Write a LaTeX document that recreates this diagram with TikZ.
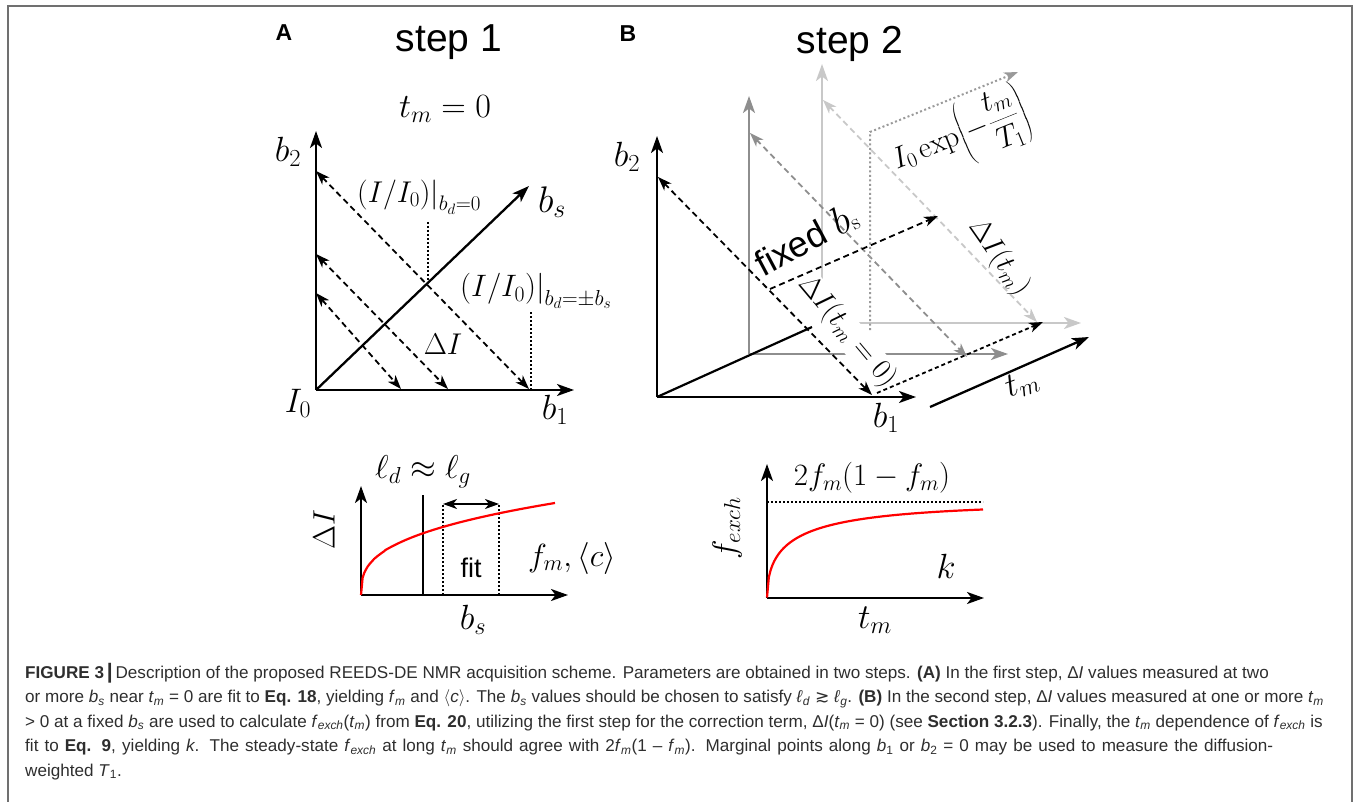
\RequirePackage{fix-cm}
\documentclass[tikz,border=0pt]{standalone}
\usepackage{fontspec}
\newfontfamily\hv{Liberation Sans}
\newfontfamily\dvs{DejaVu Sans}
\newfontfamily\capfont{Liberation Sans}
\usetikzlibrary{arrows.meta}
\definecolor{gmid}{HTML}{8E8E8E}
\definecolor{glight}{HTML}{C8C8C8}
\definecolor{gdot}{HTML}{9A9A9A}
\definecolor{frame}{HTML}{707070}
\definecolor{captext}{HTML}{2E2E2E}
\newcommand\fs[1]{\fontsize{#1}{#1}\selectfont}
\newcommand\csub[2]{\textit{#1}\textsubscript{\textit{#2}}}
\tikzset{
  tipA/.tip={Stealth[length=17pt,width=12pt,inset=4.5pt]},
  tipB/.tip={Stealth[length=14pt,width=10pt,inset=4pt]},
  axisline/.style={line width=2.3pt,-tipA},
  dbl/.style={line width=1.8pt,dash pattern=on 6pt off 4pt,tipB-tipB},
  sgl/.style={line width=1.8pt,dash pattern=on 6pt off 4pt,-tipB},
  dotv/.style={line width=2pt,dash pattern=on 2pt off 2pt},
  lab/.style={inner sep=0pt,font=\fs{30}},
  redc/.style={red,line width=2.2pt},
  capline/.style={anchor=base west,inner sep=0pt,text=captext,font=\capfont\fontsize{17.1}{24}\selectfont},
}
\begin{document}
\begin{tikzpicture}[x=1pt,y=-1pt]
\useasboundingbox (0,0) rectangle (1354,802);
% frame
\draw[frame,line width=1.5pt] (8,802) -- (8,6) -- (1352,6) -- (1352,802);

% ---------- Panel A ----------
\node[font=\hv\bfseries\fs{23},inner sep=0pt] (lblA) at (284,33) {A};
\node[font=\hv\fs{39},inner sep=0pt] (step1) at (449,42) {step 1};
\node[lab,font=\fs{34}] (tm0) at (445,109) {$t_m = 0$};

\coordinate (OA) at (316,390);
\coordinate (A2) at (316,131);
\coordinate (A1) at (574,390);
\coordinate (As) at (529,186);
\draw[axisline] (OA) -- (A2);
\draw[axisline] (OA) -- (A1);
\draw[axisline] (OA) -- (As);

\coordinate (d1a) at (316,171); \coordinate (d1b) at (529,389);
\coordinate (d2a) at (316,254); \coordinate (d2b) at (448,389);
\coordinate (d3a) at (316,293); \coordinate (d3b) at (401,389);
\draw[dbl] (d1a) -- (d1b);
\draw[dbl] (d2a) -- (d2b);
\draw[dbl] (d3a) -- (d3b);

\coordinate (v1a) at (428,222); \coordinate (v1b) at (428,282);
\coordinate (v2a) at (531,312); \coordinate (v2b) at (531,390);
\draw[dotv] (v1a) -- (v1b);
\draw[dotv] (v2a) -- (v2b);

\node[lab,font=\fs{35}] (b2A) at (288,152) {$b_2$};
\node[lab,font=\fs{34}] (I0A) at (298,403) {$I_0$};
\node[lab,font=\fs{35}] (b1A) at (555,410) {$b_1$};
\node[lab,font=\fs{37}] (bsA) at (552,202) {$b_s$};
\node[lab,anchor=west] (II0a) at (357,197) {$(I/I_0)\Big|_{b_d=0}$};
\node[lab,anchor=west,font=\fs{31}] (II0b) at (460,291) {$(I/I_0)\Big|_{b_d=\pm b_s}$};
\node[lab] (dIA) at (443,344) {$\Delta I$};

% ---------- Panel B ----------
\node[font=\hv\bfseries\fs{23},inner sep=0pt] (lblB) at (628,34) {B};
\node[font=\hv\fs{39},inner sep=0pt] (step2) at (850,44) {step 2};

\coordinate (O0) at (657,397);
\coordinate (B02) at (657,136);
\coordinate (B01) at (916,397);
\coordinate (O1) at (749,354);
\coordinate (B12) at (749,96);
\coordinate (B11) at (1008,354);
\coordinate (O2) at (822,323);
\coordinate (B22) at (822,64);
\coordinate (B21) at (1081,323);
\coordinate (Oend) at (812,327);

% light gray system
\draw[glight,axisline] (O2) -- (B22);
\draw[glight,axisline] (O2) -- (B21);
\draw[glight,dbl] (823,100) -- (1037,322);
% mid gray system
\draw[gmid,axisline] (O1) -- (B12);
\draw[gmid,axisline] (O1) -- (B11);
\draw[gmid,dbl] (750,133) -- (967,357);
% dotted T1 line
\coordinate (T1a) at (870,330);
\coordinate (T1b) at (870,132);
\coordinate (T1c) at (1018,72);
\draw[gdot,line width=2pt,dash pattern=on 2pt off 2.5pt,-tipB] (T1a) -- (T1b) -- (T1c);

\node[lab,font=\fs{29},fill=white,inner sep=1pt,rotate=-50] (dI0) at (847,332) {$\Delta I(t_m = 0)$};

% black system
\draw[line width=2.2pt] (O0) -- (Oend);
\draw[axisline] (O0) -- (B02);
\draw[axisline] (O0) -- (B01);
\draw[dbl] (658,177) -- (872,395);
\coordinate (fA) at (770,289); \coordinate (fB) at (938,216);
\draw[sgl] (fA) -- (fB);
\coordinate (gA) at (877,393); \coordinate (gB) at (1043,322);
\draw[sgl,dash pattern=on 4pt off 3pt] (gA) -- (gB);
\coordinate (tA) at (930,407); \coordinate (tB) at (1089,337);
\draw[axisline] (tA) -- (tB);

\node[lab,font=\fs{35}] (b2B) at (627,157) {$b_2$};
\node[lab,font=\fs{35}] (b1B) at (886,418) {$b_1$};
\node[lab,font=\fs{34},rotate=20] (tmB) at (1022,384) {$t_m$};
\node[inner sep=0pt,rotate=28] (fixed) at (806,240) {\hv\fs{36}fixed \fs{40}$b$\raisebox{-2pt}{\fs{22}$\mathrm{s}$}};
\node[lab,rotate=22,font=\fs{30}] (expl) at (960,136) {$I_0\exp\!\left(-{\displaystyle\frac{t_m}{T_1}}\right)$};
\node[lab,font=\fs{29},rotate=-55] (dItm) at (999,258) {$\Delta I(t_m)$};

% ---------- bottom left plot ----------
\coordinate (P0) at (361,595);
\coordinate (Py) at (361,486);
\coordinate (Px) at (568,595);
\draw[axisline] (P0) -- (Py);
\draw[axisline] (P0) -- (Px);
\coordinate (sl1) at (423,595); \coordinate (sl2) at (423,495);
\draw[line width=2pt] (sl1) -- (sl2);
\draw[dotv] (443,595) -- (443,504);
\draw[dotv] (499,595) -- (499,504);
\coordinate (fitL) at (443,504); \coordinate (fitR) at (499,504);
\draw[line width=1.8pt,tipB-tipB] (fitL) -- (fitR);
\draw[redc] plot[domain=0.001:194,samples=120] ({361+\x},{595-92*(\x/194)^0.35});
\node[lab,rotate=90,font=\fs{31}] (dIy) at (324,530) {$\Delta I$};
\node[lab,font=\fs{33}] (ell) at (423,472) {$\ell_d\approx\ell_g$};
\node[inner sep=0pt,font=\hv\fs{27}] (fit) at (471,568) {fit};
\node[lab,font=\fs{32}] (fmc) at (572,558) {$f_m,\langle c\rangle$};
\node[lab,font=\fs{35}] (bsx) at (473,620) {$b_s$};

% ---------- bottom right plot ----------
\coordinate (Q0) at (767,598);
\coordinate (Qy) at (767,464);
\coordinate (Qx) at (984,598);
\draw[axisline] (Q0) -- (Qy);
\draw[axisline] (Q0) -- (Qx);
\coordinate (h1) at (767,502); \coordinate (h2) at (983,502);
\draw[dotv] (h1) -- (h2);
\draw[redc] plot[domain=0.001:216,samples=120] ({767+\x},{598-95*(1-exp(-sqrt(\x/30)))});
\node[lab,rotate=90,font=\fs{33}] (fex) at (727,528) {$f_{exch}$};
\node[lab,font=\fs{31}] (fm2) at (872,478) {$2f_m(1-f_m)$};
\node[lab,font=\fs{35}] (kk) at (946,566) {$k$};
\node[lab,font=\fs{35}] (tmx) at (875,620) {$t_m$};

% ---------- caption ----------
\node[capline] (c1) at (25,678) {\textbf{FIGURE 3}\,{\fontsize{21}{21}\selectfont\textbf{|}}\,Description of the proposed REEDS-DE NMR acquisition scheme. Parameters are obtained in two steps. \textbf{(A)} In the first step, Δ\textit{I} values measured at two};
\node[capline] (c2) at (25,702.5) {or more \csub{b}{s} near \csub{t}{m} = 0 are fit to \textbf{Eq. 18}, yielding \csub{f}{m} and $\langle$\textit{c}$\rangle$. The \csub{b}{s} values should be chosen to satisfy \csub{ℓ}{d} {\dvs ≳} \csub{ℓ}{g}. \textbf{(B)} In the second step, Δ\textit{I} values measured at one or more \csub{t}{m}};
\node[capline] (c3) at (25,727) {> 0 at a fixed \csub{b}{s} are used to calculate \csub{f}{exch}(\csub{t}{m}) from \textbf{Eq. 20}, utilizing the first step for the correction term, Δ\textit{I}(\csub{t}{m} = 0) (see \textbf{Section 3.2.3}). Finally, the \csub{t}{m} dependence of \csub{f}{exch} is};
\node[capline] (c4) at (25,751.5) {\makebox[1248pt][s]{fit to \textbf{Eq. 9}, yielding \textit{k}. The steady-state \csub{f}{exch} at long \csub{t}{m} should agree with 2\csub{f}{m}(1 – \csub{f}{m}). Marginal points along \textit{b}\textsubscript{1} or \textit{b}\textsubscript{2} = 0 may be used to measure the diffusion-}};
\node[capline] (c5) at (25,776) {weighted \textit{T}\textsubscript{1}.};
\end{tikzpicture}
\end{document}
